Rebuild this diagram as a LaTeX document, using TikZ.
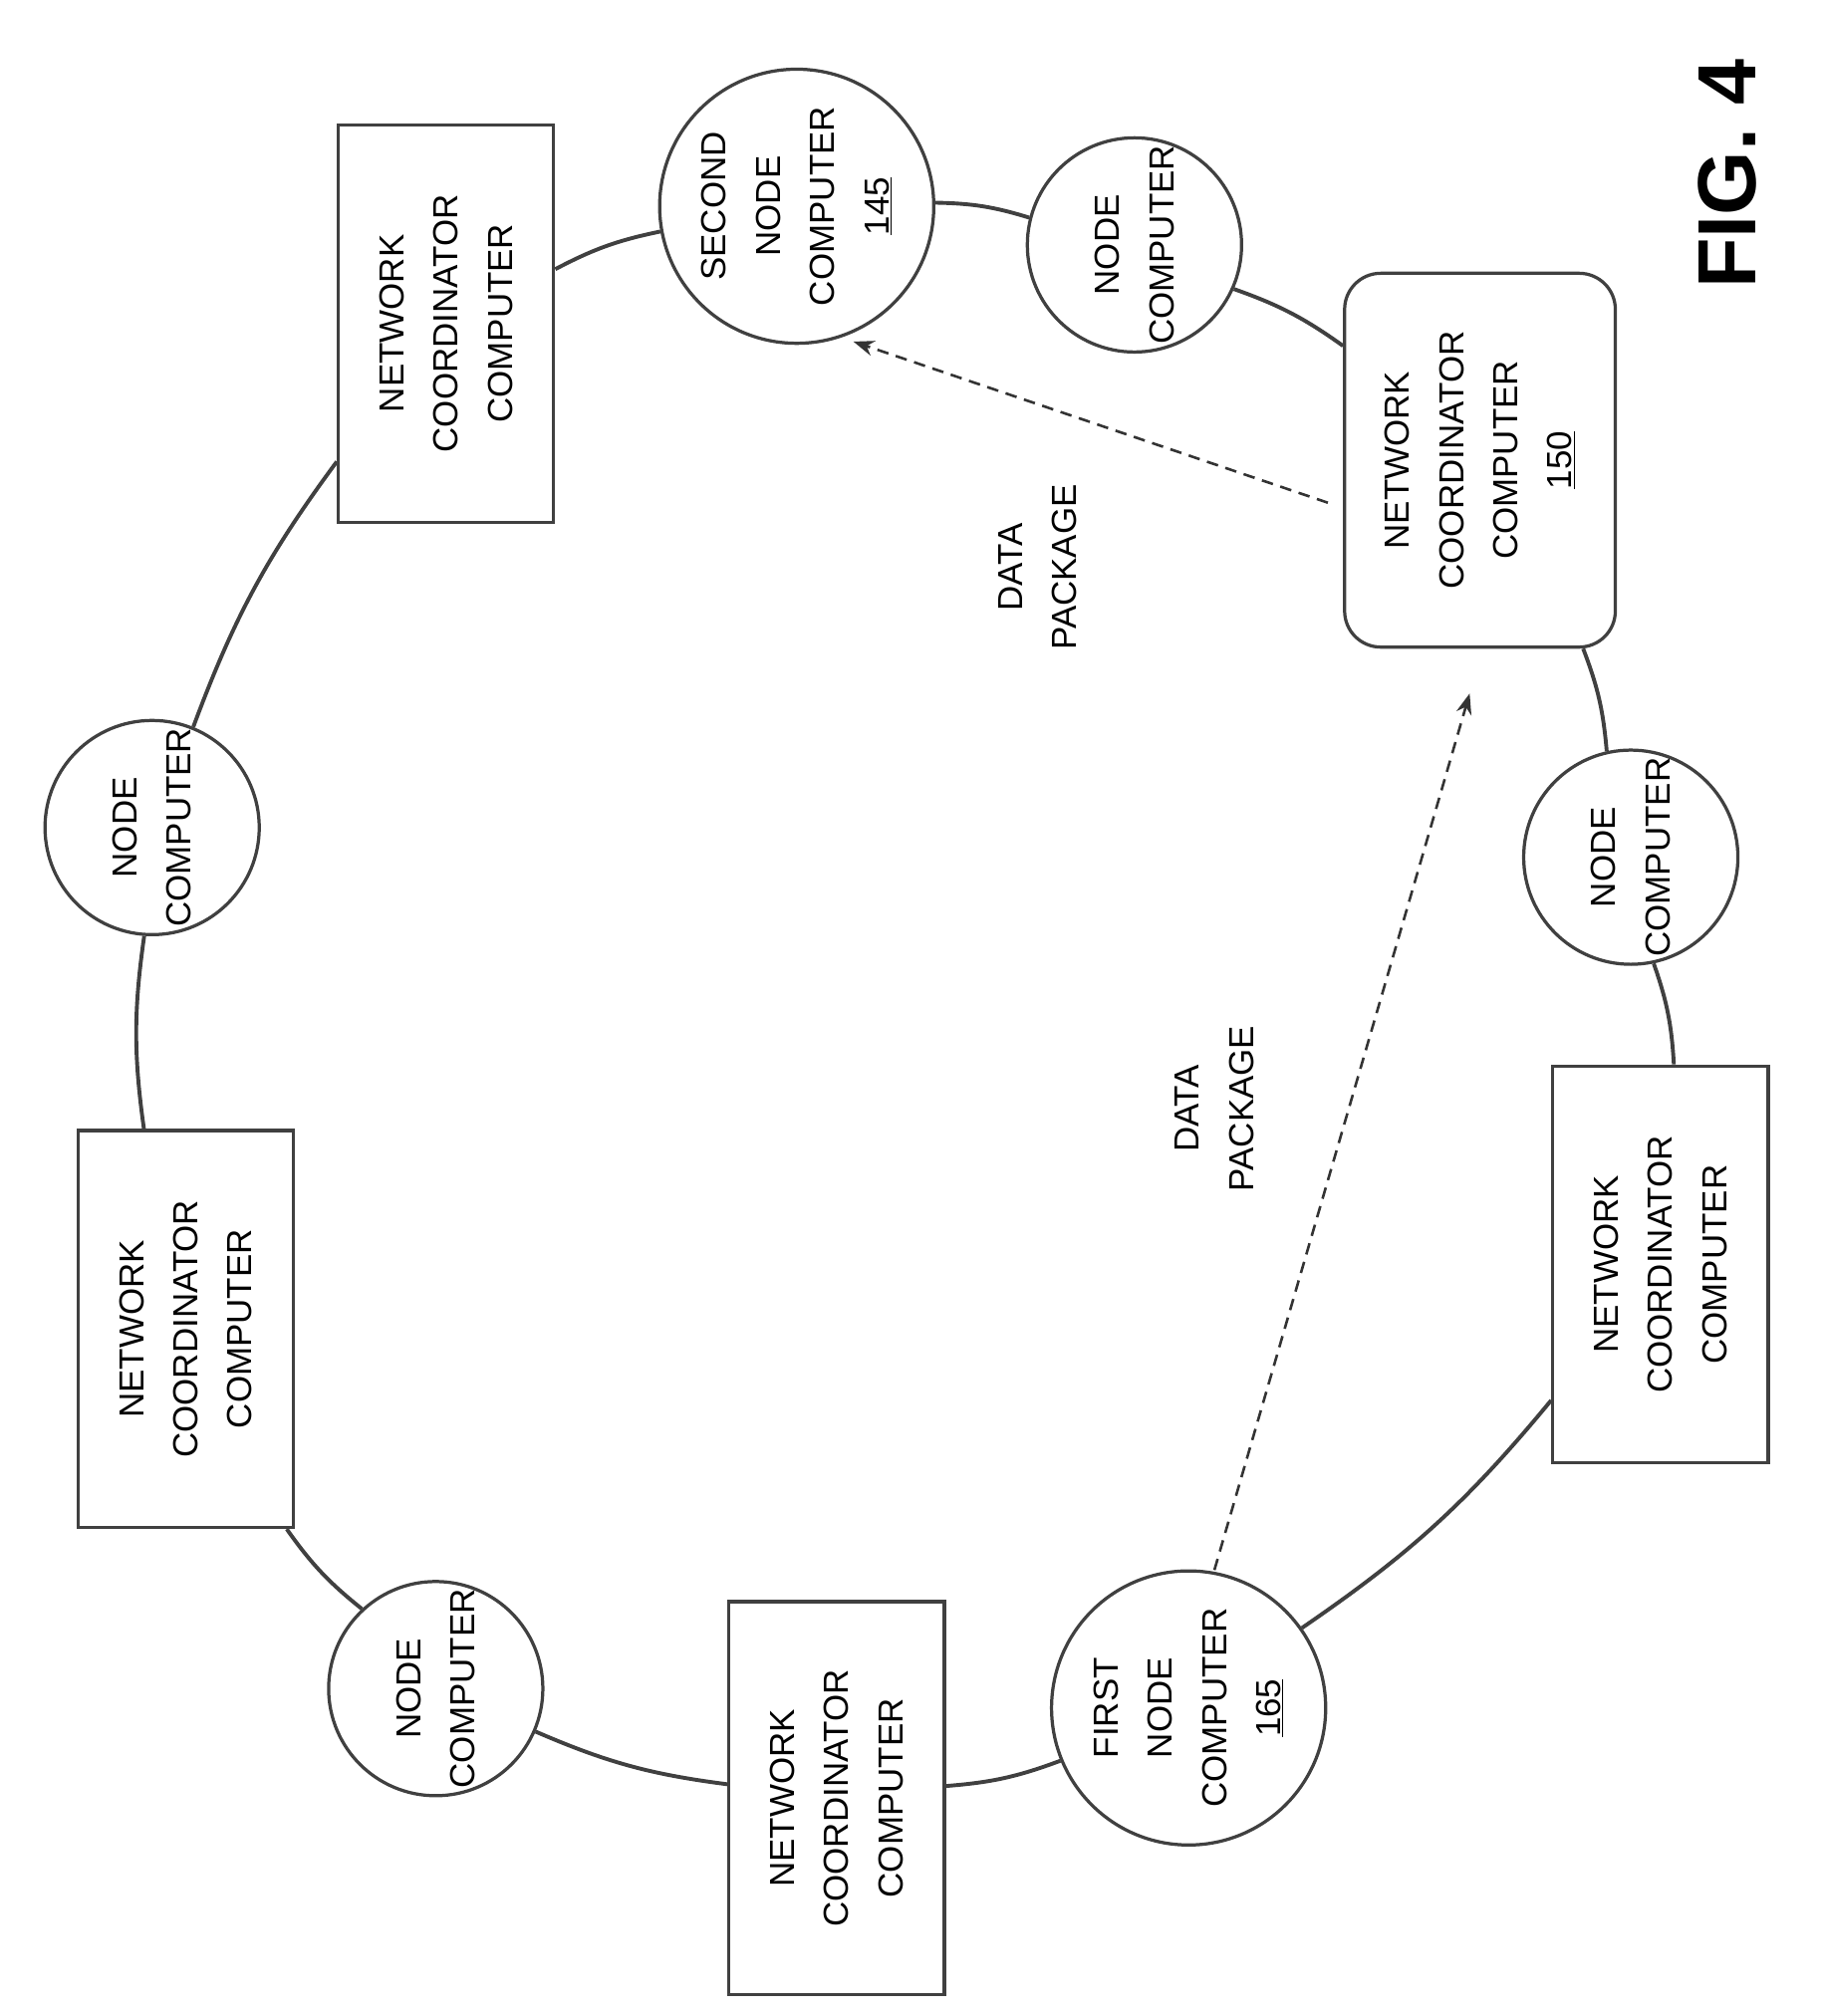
\documentclass[tikz,border=0pt]{standalone}
\usepackage{fontspec}
\setmainfont{Liberation Sans}
\usetikzlibrary{arrows.meta}
\tikzset{
  ring/.style={draw=black!75,line width=3pt},
  comp/.style={circle,draw=black!75,line width=2.5pt,fill=white,rotate=90,align=center,inner sep=0pt},
  coord/.style={rectangle,draw=black!75,line width=2.5pt,fill=white,rotate=90,align=center,minimum width=308pt,minimum height=167pt},
  pkg/.style={draw=black!80,line width=2pt,dash pattern=on 9pt off 6pt,-{Stealth[length=16pt,width=12pt]}},
  lbl/.style={rotate=90,align=center}
}
\begin{document}
\begin{tikzpicture}[x=1pt,y=-1pt,font=\fontsize{27}{42}\selectfont]
  \useasboundingbox (0,0) rectangle (1414,1564);
  % nodes on the ring
  \node[comp,minimum size=176pt] (second) at (618,160) {SECOND\\NODE\\COMPUTER\\\underline{145}};
  \node[comp,minimum size=138pt] (ntr) at (880,190) {NODE\\COMPUTER};
  \node[coord,rounded corners=28pt,minimum width=290pt,minimum height=210pt] (nc150) at (1148,357) {NETWORK\\COORDINATOR\\COMPUTER\\\underline{150}};
  \node[comp,minimum size=138pt] (nr) at (1265,665) {NODE\\COMPUTER};
  \node[coord] (ncr) at (1288,981) {NETWORK\\COORDINATOR\\COMPUTER};
  \node[comp,minimum size=142pt] (first) at (922,1325) {FIRST\\NODE\\COMPUTER\\\underline{165}};
  \node[coord,minimum width=305pt] (ncb) at (649,1395) {NETWORK\\COORDINATOR\\COMPUTER};
  \node[comp,minimum size=142pt] (nbl) at (338,1310) {NODE\\COMPUTER};
  \node[coord] (ncl) at (144,1031) {NETWORK\\COORDINATOR\\COMPUTER};
  \node[comp,minimum size=142pt] (ntl) at (118,642) {NODE\\COMPUTER};
  \node[coord] (nct) at (346,251) {NETWORK\\COORDINATOR\\COMPUTER};
  % ring
  \begin{scope}[on background layer/.style={}]
  \end{scope}
  \foreach \a/\b in {second/ntr,ntr/nc150,nc150/nr,nr/ncr,ncr/first,first/ncb,ncb/nbl,nbl/ncl,ncl/ntl,ntl/nct,nct/second}
    \draw[ring] (\a) to[bend left=8] (\b);
  % data packages
  \coordinate (p1s) at (1030,390);
  \coordinate (p1e) at (662,265);
  \coordinate (p2s) at (942,1218);
  \coordinate (p2e) at (1140,538);
  \draw[pkg] (p1s) -- (p1e);
  \draw[pkg] (p2s) -- (p2e);
  \node[lbl] (lbl1) at (805,440) {DATA\\PACKAGE};
  \node[lbl] (lbl2) at (942,860) {DATA\\PACKAGE};
  \node[rotate=90,font=\fontsize{64}{70}\selectfont\bfseries] (fig) at (1340,135) {FIG. 4};
\end{tikzpicture}
\end{document}
